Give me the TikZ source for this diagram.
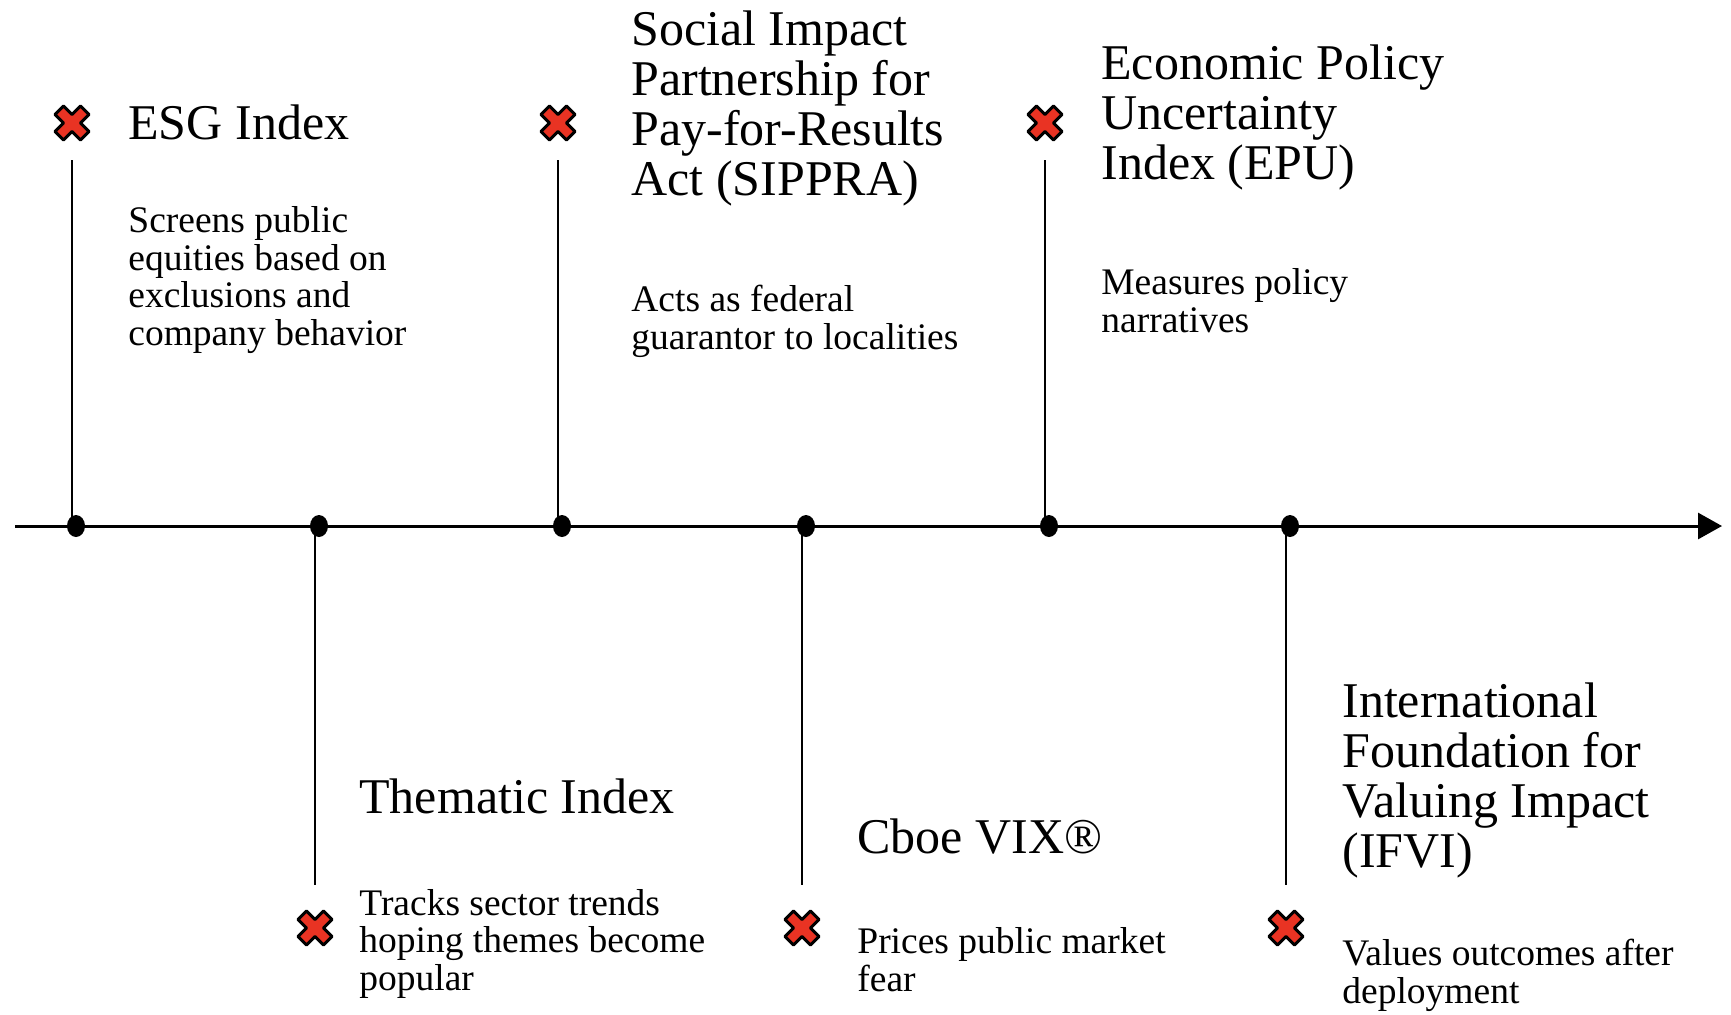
\documentclass[tikz,border=0pt]{standalone}
\usepackage{fontspec}
\setmainfont{Liberation Serif}
\usetikzlibrary{arrows.meta,shapes.geometric}
\definecolor{markred}{RGB}{233,51,35}
\tikzset{
	xmark/.pic={
			\filldraw[fill=markred, draw=black, line width=1.5pt, line join=round, rotate=45]
			(-6,18) -- (6,18) -- (6,6) -- (18,6) -- (18,-6) -- (6,-6) -- (6,-18)
			-- (-6,-18) -- (-6,-6) -- (-18,-6) -- (-18,6) -- (-6,6) -- cycle;
		},
	marker/.style={circle, minimum size=37pt, inner sep=0pt},
	stem/.style={line width=1pt},
	tick/.style={ellipse, fill=black, minimum width=9pt, minimum height=11pt, inner sep=0pt},
	title/.style={anchor=base west, inner sep=0pt, align=left, font=\fontsize{25}{25}\selectfont},
	desc/.style={anchor=base west, inner sep=0pt, align=left, font=\fontsize{18.75}{18.75}\selectfont}
}

\begin{document}
\begin{tikzpicture}[x=0.5pt, y=-0.5pt]
	\useasboundingbox (0,0) rectangle (1731,1014);
	\coordinate (start) at (15,526);
	\coordinate (end) at (1722,526);

	\foreach \name/\x/\y in {esg/72/123, sippra/558/123, epu/1045/123,
			thematic/315/928, vix/802/928, ifvi/1286/928}{
			\node[marker] (\name) at (\x,\y) {};
			\pic at (\name) {xmark};
		}

	\draw[line width=1.5pt, -{Triangle[length=12pt, width=13pt]}] (start) -- (end);

	\foreach \name in {esg, sippra, epu}
	\draw[stem] (\name.south) -- (\name.south |- start);
	\foreach \name in {thematic, vix, ifvi}
	\draw[stem, shorten <=3pt] (\name.north) -- (\name.north |- start);

	\foreach \name in {esg, sippra, epu, thematic, vix, ifvi}
	\node[tick, xshift=2pt] (\name dot) at (\name |- start) {};

	% base = last line
	\node[title] (esg title) at (128,139) {ESG Index};
	\node[desc] (esg desc) at (128,345) {Screens public\\equities based on\\exclusions and\\company behavior};

	\node[title] (sippra title) at (631,195) {Social Impact\\Partnership for\\Pay-for-Results\\Act (SIPPRA)};
	\node[desc] (sippra desc) at (631,349) {Acts as federal\\guarantor to localities};

	\node[title] (epu title) at (1101,179) {Economic Policy\\Uncertainty\\Index (EPU)};
	\node[desc] (epu desc) at (1101,332) {Measures policy\\narratives};

	\node[title] (thematic title) at (359,813) {Thematic Index};
	\node[desc] (thematic desc) at (359,990) {Tracks sector trends\\hoping themes become\\popular};

	\node[title] (vix title) at (857,853) {Cboe VIX®};
	\node[desc] (vix desc) at (857,991) {Prices public market\\fear};

	\node[title] (ifvi title) at (1342,867) {International\\Foundation for\\Valuing Impact\\(IFVI)};
	\node[desc] (ifvi desc) at (1342,1003) {Values outcomes after\\deployment};
\end{tikzpicture}
\end{document}
